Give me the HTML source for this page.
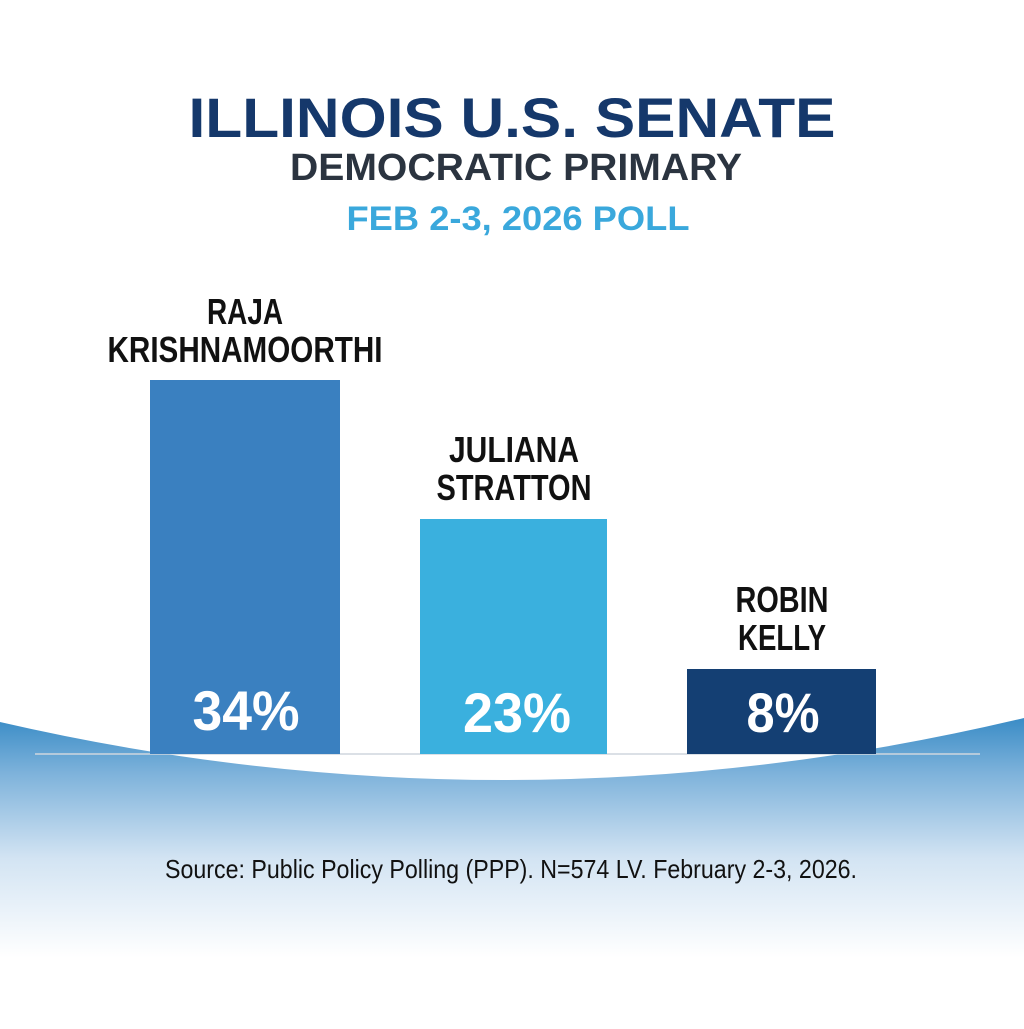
<!DOCTYPE html>
<html><head><meta charset="utf-8"><style>html,body{margin:0;padding:0;background:#fff}</style></head>
<body>
<svg width="1024" height="1024" viewBox="0 0 1024 1024" xmlns="http://www.w3.org/2000/svg" font-family="Liberation Sans, sans-serif">
<defs>
<linearGradient id="wg" x1="0" y1="0" x2="0" y2="1">
<stop offset="0" stop-color="#3a8cc6"/>
<stop offset="0.2" stop-color="#7fb3db"/>
<stop offset="0.5" stop-color="#d3e4f3"/>
<stop offset="0.85" stop-color="#ffffff"/>
</linearGradient>
</defs>
<rect width="1024" height="1024" fill="#fff"/>
<path d="M0,722 Q512,840 1024,718 L1024,1000 L0,1000 Z" fill="url(#wg)"/>
<text x="512" y="137" text-anchor="middle" font-size="56" font-weight="bold" fill="#15386b" textLength="647" lengthAdjust="spacingAndGlyphs">ILLINOIS U.S. SENATE</text>
<text x="516" y="180" text-anchor="middle" font-size="38" font-weight="bold" fill="#2b3440" textLength="452" lengthAdjust="spacingAndGlyphs">DEMOCRATIC PRIMARY</text>
<text x="518" y="230" text-anchor="middle" font-size="34" font-weight="bold" fill="#3aa8dc" textLength="343" lengthAdjust="spacingAndGlyphs">FEB 2-3, 2026 POLL</text>
<line x1="35" y1="754" x2="980" y2="754" stroke="#cfd6de" stroke-width="1.5"/>
<rect x="150" y="380" width="190" height="374" fill="#3a80c0"/>
<rect x="420" y="519" width="187" height="235" fill="#3ab0de"/>
<rect x="687" y="669" width="189" height="85" fill="#143f73"/>
<g font-weight="bold" fill="#111" font-size="36" text-anchor="middle">
<text x="245" y="324" textLength="76" lengthAdjust="spacingAndGlyphs">RAJA</text>
<text x="245" y="362" textLength="275" lengthAdjust="spacingAndGlyphs">KRISHNAMOORTHI</text>
<text x="514" y="462" textLength="130" lengthAdjust="spacingAndGlyphs">JULIANA</text>
<text x="514" y="500" textLength="155" lengthAdjust="spacingAndGlyphs">STRATTON</text>
<text x="782" y="612" textLength="93" lengthAdjust="spacingAndGlyphs">ROBIN</text>
<text x="782" y="650" textLength="88" lengthAdjust="spacingAndGlyphs">KELLY</text>
</g>
<g font-weight="bold" fill="#fff" font-size="56" text-anchor="middle">
<text x="246" y="730" textLength="107" lengthAdjust="spacingAndGlyphs">34%</text>
<text x="517" y="732" textLength="108" lengthAdjust="spacingAndGlyphs">23%</text>
<text x="783" y="732" textLength="73" lengthAdjust="spacingAndGlyphs">8%</text>
</g>
<text x="511" y="878" text-anchor="middle" font-size="26" fill="#111" textLength="692" lengthAdjust="spacingAndGlyphs">Source: Public Policy Polling (PPP). N=574 LV. February 2-3, 2026.</text>
</svg>
</body></html>
